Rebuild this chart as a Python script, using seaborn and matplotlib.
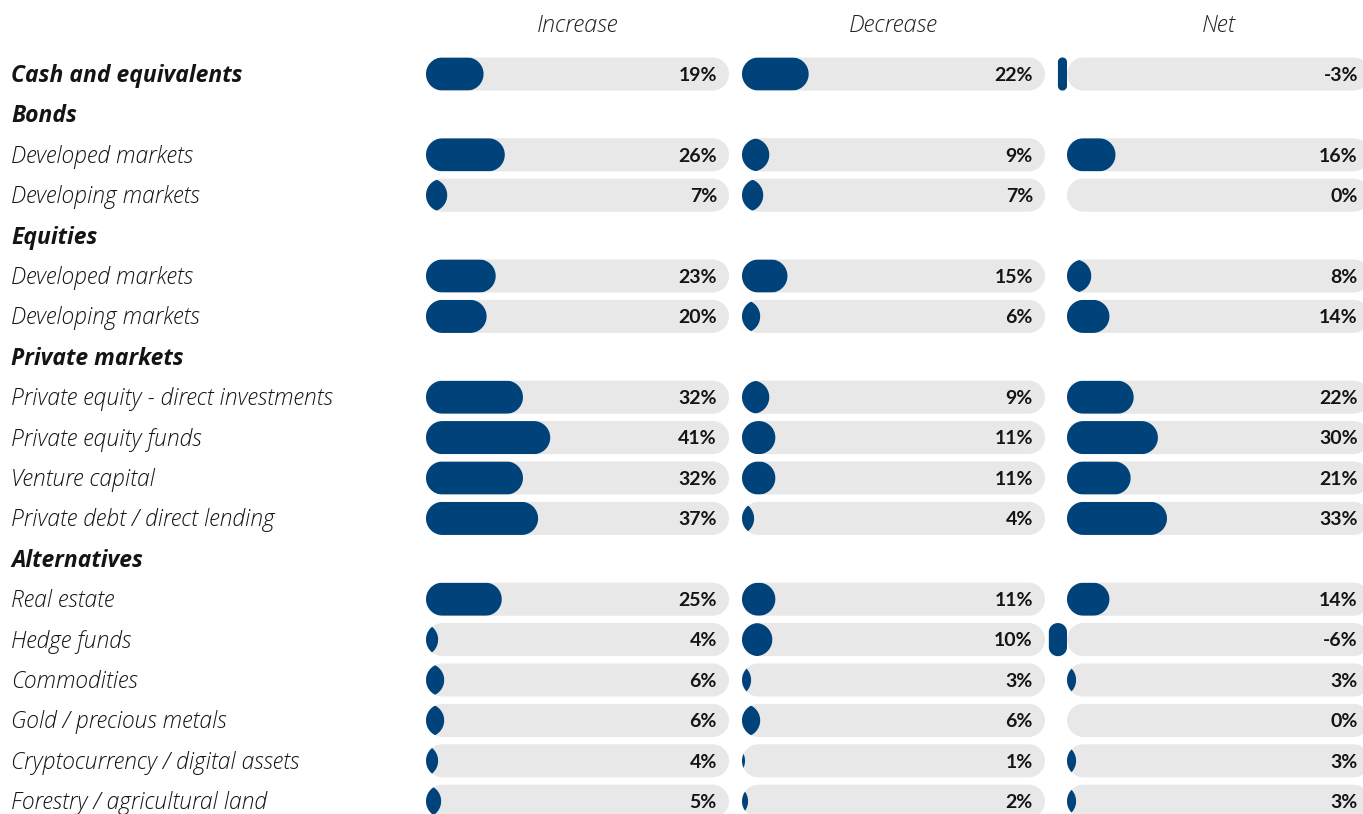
import numpy as np
import pandas as pd
import matplotlib.pyplot as plt
from matplotlib.patches import Polygon
from matplotlib.transforms import blended_transform_factory
import seaborn as sns

sns.set_style("white")
plt.rcParams['font.family'] = ['Open Sans', 'DejaVu Sans']

labels = [
    "Cash and equivalents", "Bonds", "Developed markets", "Developing markets",
    "Equities", "Developed markets", "Developing markets", "Private markets",
    "Private equity - direct investments", "Private equity funds", "Venture capital",
    "Private debt / direct lending", "Alternatives", "Real estate", "Hedge funds",
    "Commodities", "Gold / precious metals", "Cryptocurrency / digital assets",
    "Forestry / agricultural land",
]
bold = [True, True, False, False, True, False, False, True, False, False, False,
        False, True, False, False, False, False, False, False]
increase = [19, None, 26, 7, None, 23, 20, None, 32, 41, 32, 37, None, 25, 4, 6, 6, 4, 5]
decrease = [22, None, 9, 7, None, 15, 6, None, 9, 11, 11, 4, None, 11, 10, 3, 6, 1, 2]
net = [-3, None, 16, 0, None, 8, 14, None, 22, 30, 21, 33, None, 14, -6, 3, 0, 3, 3]
columns = ["Increase", "Decrease", "Net"]

BLUE = "#00437a"
GRAY = "#e8e8e8"
TEXT = "#141414"

# pixel layout
W, H = 1363, 814
row0, step = 74, 40.4
ppp = 3.03  # pixels per percent
zero_px = [426, 742, 1067]
left_px = [426, 742, 1040]
right_px = [729, 1045, 1363]
bar_w = 0.82
half_px = bar_w * step / 2


def rounded(x0, x1, y0, y1, r_px, **kw):
    # rounded rectangle in data units with circular corners on screen
    rx, ry = r_px / ppp, r_px / step
    pts = []
    for cx, cy, a0 in [(x1 - rx, y1 - ry, 0), (x0 + rx, y1 - ry, 90),
                       (x0 + rx, y0 + ry, 180), (x1 - rx, y0 + ry, 270)]:
        t = np.radians(np.linspace(a0, a0 + 90, 24))
        pts += list(zip(cx + rx * np.cos(t), cy + ry * np.sin(t)))
    return Polygon(pts, closed=True, ec="none", **kw)


keys = [f"{i}:{l}" for i, l in enumerate(labels)]
R = half_px / ppp

fig = plt.figure(figsize=(W / 100, H / 100), dpi=100)

for c, (name, vals) in enumerate(zip(columns, [increase, decrease, net])):
    ax = fig.add_axes([left_px[c] / W, 0, (right_px[c] - left_px[c]) / W, 1])
    df = pd.DataFrame({"key": keys, "value": vals}).dropna()
    df["track"] = 100

    n0 = len(ax.patches)
    sns.barplot(data=df, x="track", y="key", order=keys, orient="h", color=GRAY,
                saturation=1, width=bar_w, errorbar=None, ax=ax)
    tracks = list(ax.patches[n0:])
    n1 = len(ax.patches)
    sns.barplot(data=df, x="value", y="key", order=keys, orient="h", color=BLUE,
                saturation=1, width=bar_w, errorbar=None, ax=ax)
    bars = list(ax.patches[n1:])

    # swap seaborn's rectangles for rounded pills
    pills = {}
    for r in tracks:
        row = round(r.get_y() + r.get_height() / 2)
        x0, w, y, h = r.get_x(), r.get_width(), r.get_y(), r.get_height()
        r.remove()
        p = rounded(x0, x0 + w, y, y + h, half_px, fc=GRAY, zorder=1)
        ax.add_patch(p)
        pills[row] = p
    for r in bars:
        row = round(r.get_y() + r.get_height() / 2)
        x0, w, y, h = r.get_x(), r.get_width(), r.get_y(), r.get_height()
        r.remove()
        if w > 0:
            p = rounded(x0 - 2 * R, x0 + w, y, y + h, half_px, fc=BLUE, zorder=2)
            ax.add_patch(p)
            p.set_clip_path(pills[row])
        elif w < 0:
            p = rounded(x0 + w, x0, y, y + h, min(half_px, -w * ppp / 2),
                        fc=BLUE, zorder=2)
            ax.add_patch(p)

    for i, v in enumerate(vals):
        if v is None:
            continue
        ax.text(96, i + 0.03, f"{v}%", ha="right", va="center", fontsize=14,
                fontweight="bold", color=TEXT, family=["Lato", "DejaVu Sans"],
                zorder=3)

    ax.text(50, (26 - row0) / step, name, ha="center", va="center", fontsize=17,
            fontstyle="italic", fontweight="light", color="#222222")

    ax.set_xlim((left_px[c] - zero_px[c]) / ppp, (right_px[c] - zero_px[c]) / ppp)
    ax.set_ylim((H - row0) / step, -row0 / step)
    ax.axis("off")

    if c == 0:
        tr = blended_transform_factory(fig.transFigure, ax.transData)
        for i, lab in enumerate(labels):
            ax.text(11 / W, i + 0.05, lab, transform=tr, ha="left", va="center",
                    fontsize=16.5, fontstyle="italic",
                    fontweight="bold" if bold[i] else "light", color=TEXT)

fig.savefig("out.png", dpi=100)
